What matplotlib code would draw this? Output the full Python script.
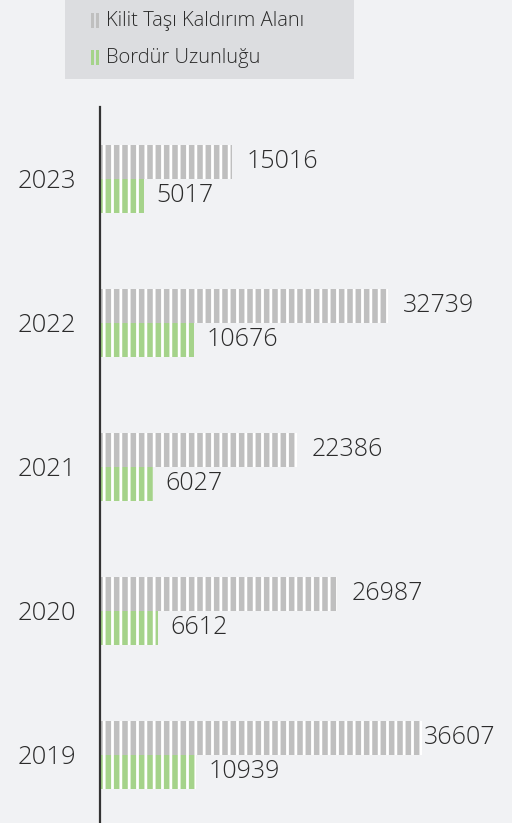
import matplotlib
matplotlib.use("Agg")
import matplotlib.pyplot as plt
from matplotlib.patches import Rectangle

years = ['2019', '2020', '2021', '2022', '2023']
kilit_tasi = [36607, 26987, 22386, 32739, 15016]
bordur = [10939, 6612, 6027, 10676, 5017]
legend_labels = ['Kilit Taşı Kaldırım Alanı', 'Bordür Uzunluğu']

gray = '#bfbfbf'
green = '#a5d38a'
bg = '#f1f2f4'
txt = '#2b2b2b'

plt.rcParams['font.family'] = ['Open Sans', 'DejaVu Sans']
plt.rcParams['hatch.linewidth'] = 2.0

W, H = 512, 823
fig = plt.figure(figsize=(W / 100, H / 100), dpi=100, facecolor=bg)
ax = fig.add_axes([100 / W, 0, (W - 100) / W, (823 - 107) / H])
ax.set_facecolor(bg)

# 36607 -> pixel 422, axis starts at 100
xmax = 36607 * (W - 100) / (422 - 100)
ax.set_xlim(0, xmax)
step = 144.0
ax.set_ylim(-(823 - 755) / step, (755 - 107) / step)

h = 34 / step
ys = list(range(len(years)))
ax.barh([y + h / 2 for y in ys], kilit_tasi, height=h, color=gray,
        edgecolor='white', linewidth=0, hatch='||')
ax.barh([y - h / 2 for y in ys], bordur, height=h, color=green,
        edgecolor='white', linewidth=0, hatch='||')

for s in ['top', 'right', 'bottom']:
    ax.spines[s].set_visible(False)
ax.spines['left'].set_color('#333333')
ax.spines['left'].set_linewidth(1.6)
ax.set_xticks([])
ax.set_yticks(ys)
ax.set_yticklabels(years, fontsize=18.5, color=txt, fontweight='light')
ax.tick_params(axis='y', length=0, pad=17)

labels = []
for y, v in zip(ys, kilit_tasi):
    t = ax.annotate(str(v), (v, y + h / 2), xytext=(10.5, 0), textcoords='offset points',
                    va='center', ha='left', fontsize=18, color=txt, fontweight='light')
    labels.append(t)
for y, v in zip(ys, bordur):
    t = ax.annotate(str(v), (v, y - h / 2), xytext=(9, 0), textcoords='offset points',
                    va='center', ha='left', fontsize=18, color=txt, fontweight='light')
    labels.append(t)

# keep labels inside the figure
fig.canvas.draw()
r = fig.canvas.get_renderer()
for t in labels:
    bb = t.get_window_extent(r)
    if bb.x1 > W - 12:
        t.xyann = (1.0, 0)

# legend box
fig.patches.append(Rectangle((65 / W, 1 - 79 / H), (354 - 65) / W, 79 / H,
                             transform=fig.transFigure, facecolor='#dcdde0',
                             edgecolor='none', zorder=0))
for i, (lab, c) in enumerate(zip(legend_labels, [gray, green])):
    yc = 21 + i * 37
    for dx in [91, 96]:
        fig.patches.append(Rectangle((dx / W, 1 - (yc + 7) / H), 3 / W, 15 / H,
                                     transform=fig.transFigure, facecolor=c,
                                     edgecolor='none', zorder=1))
    fig.text(106 / W, 1 - yc / H, lab, fontsize=14.5, color=txt, va='center', ha='left',
             fontweight='light')

fig.savefig('out.png', dpi=100, facecolor=bg)
